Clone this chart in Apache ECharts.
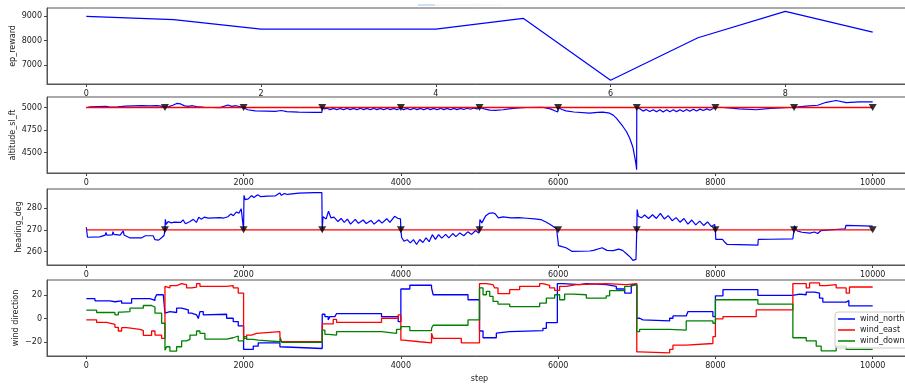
<!DOCTYPE html>
<html><head><meta charset="utf-8">
<script src="https://cdn.jsdelivr.net/npm/echarts@6/dist/echarts.min.js"></script>
<style>html,body{margin:0;padding:0;background:#fff}#c{width:905px;height:385px}</style>
</head><body><div id="c"></div>
<script>
// ---------- data ----------
const episodes = [0,1,2,3,4,5,6,7,8,9];
const epReward = [8980,8850,8460,8460,8460,8900,6395,8113,9177,8343];

const targetSteps = [1000,2000,3000,4000,5000,6000,7000,8000,9000,10000];
const altitudeTarget = 5000;
const headingTarget = 270;

const altitude = [
[0,4997],[50,5008],[150,5010],[250,5012],[300,5005],[400,5008],[500,5015],[600,5018],[700,5020],[800,5018],[900,5022],[950,5015],[1000,5005],
[1050,5010],[1100,5025],[1150,5045],[1200,5040],[1250,5018],[1300,5012],[1350,5020],[1400,5010],[1500,5002],[1600,5000],[1700,4998],[1800,5028],[1850,5012],[1900,5020],[1950,5010],[2000,5000],
[2050,4975],[2150,4962],[2300,4960],[2400,4958],[2480,4967],[2550,4955],[2700,4948],[2900,4945],[2995,4945],
[3000,5000],[3030,4985],[3060,4992],[3100,4976],[3145,4990],[3185,4975],[3230,4990],[3270,4975],[3315,4991],[3355,4976],[3400,4990],[3440,4975],[3485,4991],[3525,4976],[3570,4990],[3610,4975],[3655,4991],[3695,4976],[3740,4990],[3780,4975],[3825,4991],[3865,4976],[3910,4990],[3950,4975],[3995,4992],
[4035,4976],[4080,4990],[4120,4975],[4165,4991],[4205,4976],[4250,4990],[4290,4975],[4335,4991],[4375,4976],[4420,4990],[4460,4975],[4505,4991],[4545,4976],[4590,4990],[4630,4975],[4675,4991],[4715,4977],[4760,4990],[4800,4978],[4845,4992],[4885,4980],[4930,4994],[4970,4985],[5000,5000],
[5060,4985],[5130,4970],[5200,4968],[5300,4975],[5400,4988],[5500,4995],[5600,5000],[5800,5003],[5900,4985],[5950,4967],[5995,4950],[6000,5000],
[6050,4978],[6100,4962],[6200,4950],[6400,4938],[6500,4945],[6570,4948],[6655,4937],[6700,4915],[6740,4882],[6824,4789],[6870,4730],[6909,4660],[6950,4560],[6973,4456],[6990,4370],[6998,4308],
[7000,5000],[7040,4985],[7080,4960],[7120,4978],[7165,4955],[7210,4976],[7250,4952],[7295,4976],[7335,4950],[7380,4975],[7420,4952],[7465,4975],[7505,4954],[7550,4976],[7590,4956],[7635,4978],[7675,4958],[7720,4980],[7760,4962],[7805,4982],[7845,4966],[7890,4985],[7930,4970],[7970,4988],[8000,5002],
[8100,5000],[8300,4985],[8520,4975],[8700,4990],[9000,5003],[9150,5015],[9300,5025],[9410,5058],[9536,5078],[9663,5055],[9830,5063],[10000,5063]
];

const heading = [
[0,271.2],[15,266.6],[170,266.8],[175,267.5],[240,267.6],[250,268.8],[260,267.6],[330,267.7],[340,269.2],[350,267.9],[430,267.6],[470,269.5],[480,267.6],[555,266.3],[700,266.3],[750,267.3],[850,267.3],[873,265.5],[920,265.3],[960,266.5],[990,267.5],
[1000,270.5],[1005,274.8],[1015,272.5],[1040,273.8],[1080,273.2],[1120,273.5],[1200,273.4],[1230,274.6],[1260,272.8],[1320,273.8],[1360,274.8],[1400,273.4],[1430,275.8],[1460,274.9],[1500,275.8],[1550,275.4],[1700,275.6],[1750,275.4],[1770,274.6],[1800,276],[1840,277.3],[1870,276.5],[1910,278.2],[1940,277.6],[1970,279.6],[1995,279],[2000,270],
[2005,285.8],[2020,283.8],[2060,284.2],[2100,285.7],[2130,284.8],[2180,286.1],[2220,285.2],[2300,285.4],[2400,285.5],[2460,286.9],[2480,285.8],[2520,286.6],[2560,286.2],[2700,286.8],[2900,287],[2995,287.1],[3000,270],
[3010,276],[3050,275],[3080,278.5],[3110,275.5],[3150,275.8],[3200,273.8],[3240,275.2],[3280,273.4],[3320,274.9],[3360,272.6],[3420,274.8],[3460,273],[3520,274.5],[3560,272.9],[3620,274.3],[3660,272.6],[3720,274.5],[3760,273.1],[3820,275.1],[3860,273.4],[3920,276.2],[3960,275.3],[3995,275],[4000,270],
[4010,266.5],[4040,264.8],[4080,265.5],[4120,264],[4160,265.5],[4200,263.3],[4240,265.6],[4280,264.2],[4320,266.3],[4360,264.6],[4400,267.8],[4440,265.6],[4480,267.8],[4520,266.2],[4570,267.9],[4610,266.3],[4660,268.3],[4700,266.9],[4750,268.6],[4800,267.3],[4850,269.1],[4900,267.9],[4950,269.7],[4990,268.5],[5000,270],
[5005,274.7],[5030,273.2],[5080,276.5],[5120,277.5],[5170,277.8],[5200,277.3],[5240,275.5],[5300,275.9],[5400,275.5],[5500,275.6],[5600,275.3],[5700,275],[5780,274.7],[5850,273.5],[5900,272.4],[5980,270.5],[6000,270],
[6005,262.8],[6050,262.3],[6100,261.8],[6180,260.1],[6300,260.2],[6400,260.3],[6450,260.6],[6560,261.8],[6620,260.6],[6700,260.5],[6770,261.2],[6820,260.6],[6880,258.7],[6920,257.4],[6950,256],[6970,255.5],[6990,256.5],[7000,270],
[7005,279.3],[7020,276.2],[7060,275.5],[7100,276.8],[7150,275.2],[7200,276.9],[7250,275.2],[7300,277.5],[7350,275],[7400,276.5],[7450,274.2],[7500,275.6],[7550,273.5],[7600,275.2],[7650,272.6],[7700,274.5],[7750,272.3],[7800,274],[7850,272],[7900,273.6],[7950,271.5],[7990,272.5],[8000,270],
[8005,265.6],[8090,265.6],[8120,264.3],[8150,263.3],[8300,263.2],[8540,263],[8545,265.6],[8700,265.7],[8985,265.9],[9000,270],
[9005,271.8],[9040,269.5],[9100,268.9],[9200,268.5],[9260,269],[9300,268.3],[9340,269.6],[9360,270.5],[9650,270.5],[9660,272],[10000,271.7]
];

const windNorth = [
[0,17.0],[110,15.2],[300,14.4],[364,15.2],[449,13.2],[576,17.0],[809,15.5],[873,17.5],[894,20.4],[979,21.8],
[1000,4.6],[1021,6.0],[1063,4.6],[1085,5.2],[1148,8.9],[1212,7.5],[1297,4.6],[1339,3.2],[1402,3.7],[1424,0],[1445,6],[1487,3.2],[1508,3.7],[1784,0.3],[1868,-2.6],[1932,-6.3],
[2000,-26.4],[2123,-23.6],[2186,-20.7],[2462,-24.1],[2483,-25.6],
[3000,3.7],[3034,1.7],[3076,-1.1],[3097,1.7],[3161,3.2],[3182,4.3],[3754,1.7],[3966,-2.6],
[4000,25.3],[4114,28.5],[4390,26.2],[4411,20.4],[4854,16.1],
[5000,-10.6],[5045,-16.4],[5214,-12.5],[5235,-11.2],[5380,-10.3],[5807,-8.3],[5850,-3.4],
[5990,29.9],[6062,29.0],[6274,29.9],[6358,29.0],[6612,27.6],[6740,25.3],[6846,21.8],[6930,29.0],
[7000,0.3],[7036,-1.1],[7079,-2.0],[7418,0.3],[7460,2.3],[7629,1.2],[7651,6.0],[7968,1.7],
[8000,19.5],[8096,24.7],[8540,19.8],[8985,21.0],[9070,20.4],[9155,22.7],[9260,21.8],[9324,17.5],[9366,14.1],[9663,15.5],[9697,10.9],[10000,10.9]
];

const windEast = [
[0,-1.1],[131,-3.2],[258,-4.9],[364,-7.5],[407,-10.6],[449,-7.8],[513,-9.2],[682,-10.3],[725,-14.4],[830,-10.6],[873,-14.1],[958,-17],
[1000,27.6],[1021,26.2],[1063,28.2],[1148,29.9],[1212,29.0],[1275,26.2],[1339,27.0],[1402,29.9],[1445,27.6],[1784,28.2],[1868,26.2],[1932,21.8],
[2000,-17],[2038,-14.1],[2102,-12.6],[2165,-11.2],[2462,-15.5],[2483,-19.8],
[3000,-4.6],[3140,-0.6],[3182,-3.2],[3754,0.3],[3966,3.2],
[4000,-18.4],[4029,-19.8],[4241,-20.7],[4390,-12.6],[4411,-17],[4769,-20.7],
[5000,29.9],[5087,29.0],[5172,29.9],[5193,26.2],[5235,21.3],[5384,24.7],[5511,27.6],[5765,29.9],[5807,28.5],[5892,26.2],[5956,24.1],[6019,27.6],[6104,29.0],[6231,29.9],[6612,29.0],[6867,29.9],
[7000,-28.5],[7036,-29.3],[7418,-26.4],[7460,-22.7],[7629,-21.3],[7968,-15.5],
[8000,-0.3],[8096,1.7],[8519,7.5],
[8985,29.9],[9155,26.2],[9197,30.5],[9324,28.2],[9409,29.0],[9536,26.2],[9663,21.8],[9705,27.0],[10000,27.0]
];

const windDown = [
[0,7.2],[131,5.2],[364,3.2],[407,5.5],[449,6.0],[555,8.9],[725,11.2],[830,9.8],[873,4.6],[958,-4.0],
[1000,-27.0],[1021,-24.1],[1063,-27.9],[1148,-24.1],[1212,-19.0],[1275,-17.8],[1318,-14.1],[1402,-10.6],[1445,-12.6],[1508,-17.5],[1784,-16.4],[1868,-14.9],[1932,-19.0],
[2000,-15.5],[2038,-17.8],[2123,-18.4],[2186,-19.8],[2462,-16.9],[2483,-20.4],
[3000,-9.8],[3034,-13.5],[3076,-14.1],[3182,-11.2],[3754,-12.6],[3945,-9.2],
[4000,-6.9],[4114,-10.3],[4390,-8.3],[4411,-5.7],[4854,-1.1],
[5000,26.2],[5045,20.4],[5087,23.3],[5130,19.0],[5172,14.7],[5235,12.4],[5384,10.3],[5765,13.2],[5850,17.5],[5956,20.4],[6019,16.1],[6083,21.0],[6189,20.4],[6358,17.5],[6612,19.5],[6655,23.9],[6846,27.6],[6909,29.0],
[7000,-11.2],[7036,-9.2],[7418,-9.8],[7629,-2.0],[7968,-4.0],
[8000,16.1],[8540,12.4],
[8985,-16.4],[9155,-19.0],[9282,-23.6],[9345,-27.6],[9536,-23.6],[9663,-26.4],[10000,-26.4]
];

const tickEpisodes = [0,2,4,6,8];
const tickSteps = [0,2000,4000,6000,8000,10000];
const tickReward = [7000,8000,9000];
const tickAltitude = [4500,4750,5000];
const tickHeading = [260,270,280];
const tickWind = [-20,0,20];

// ---------- chart ----------
const FONT = 'DejaVu Sans';
const TXT = '#1a1a1a';
const FRAME = '#555';
const gridBase = {left:47, width:865, height:76, show:true, borderColor:FRAME, borderWidth:1,
  backgroundColor:'#fff', containLabel:false, outerBoundsMode:'none'};
const grids = [
  Object.assign({top:8}, gridBase),
  Object.assign({top:97}, gridBase),
  Object.assign({top:189}, gridBase),
  Object.assign({top:280}, gridBase)
];
const fmt = v => String(v).replace('-', '\u2212');

function xAx(gi, min, max, ticks, name) {
  return {
    type:'value', gridIndex:gi, min:min, max:max,
    splitLine:{show:false},
    axisLine:{show:true, onZero:false, lineStyle:{color:FRAME, width:1}},
    axisTick:{show:true, inside:false, length:3, lineStyle:{color:'#444'}, customValues:ticks},
    axisLabel:{show:true, margin:6, fontSize:8, fontFamily:FONT, color:TXT, customValues:ticks, formatter:fmt},
    name:name || '', nameLocation:'middle', nameGap:19, nameMoveOverlap:false,
    nameTextStyle:{fontSize:8, fontFamily:FONT, color:TXT}
  };
}
function yAx(gi, min, max, ticks, name, gap) {
  return {
    type:'value', gridIndex:gi, min:min, max:max,
    splitLine:{show:false},
    axisLine:{show:true, onZero:false, lineStyle:{color:FRAME, width:1}},
    axisTick:{show:true, inside:false, length:3, lineStyle:{color:'#444'}, customValues:ticks},
    axisLabel:{show:true, margin:5, fontSize:8, fontFamily:FONT, color:TXT, customValues:ticks, formatter:fmt},
    name:name, nameLocation:'middle', nameRotate:90, nameGap:gap, nameMoveOverlap:false,
    nameTextStyle:{fontSize:8, fontFamily:FONT, color:TXT}
  };
}

const hline = (v) => [[0, v], [10000, v]];
const markers = (v) => targetSteps.map(s => [s, v]);
const lineStyleOf = (c, w) => ({color:c, width:w || 1.2});

const option = {
  animation:false,
  backgroundColor:'#fff',
  grid:grids,
  xAxis:[
    xAx(0, -0.45, 9.45, tickEpisodes),
    xAx(1, -500, 10500, tickSteps),
    xAx(2, -500, 10500, tickSteps),
    xAx(3, -500, 10500, tickSteps, 'step')
  ],
  yAxis:[
    yAx(0, 6246, 9316, tickReward, 'ep_reward', 30),
    yAx(1, 4271, 5117, tickAltitude, 'altitude_sl_ft', 30),
    yAx(2, 253.9, 288.7, tickHeading, 'heading_deg', 24),
    yAx(3, -32, 33, tickWind, 'wind direction', 27)
  ],
  legend:{
    data:['wind_north','wind_east','wind_down'],
    orient:'vertical', left:835, top:312,
    icon:'rect', itemWidth:17, itemHeight:1.5, itemGap:3,
    textStyle:{fontSize:8, fontFamily:FONT, color:TXT},
    backgroundColor:'rgba(255,255,255,0.8)', borderColor:'#ccc', borderWidth:1, borderRadius:3,
    padding:[3,4,3,3]
  },
  graphic:[
    {type:'line', shape:{x1:435, y1:5, x2:503, y2:5}, style:{stroke:'#eeeeee', lineWidth:1}},
    {type:'line', shape:{x1:418, y1:5, x2:435, y2:5}, style:{stroke:'#9cc3e8', lineWidth:1}}
  ],
  series:[
    {type:'line', name:'ep_reward', xAxisIndex:0, yAxisIndex:0, data:episodes.map((e,i)=>[e, epReward[i]]),
      showSymbol:false, lineStyle:lineStyleOf('#0000ff'), z:2},
    {type:'line', name:'altitude', xAxisIndex:1, yAxisIndex:1, data:altitude,
      showSymbol:false, lineStyle:lineStyleOf('#0000ff'), z:2},
    {type:'line', name:'alt_target', xAxisIndex:1, yAxisIndex:1, data:hline(altitudeTarget),
      showSymbol:false, lineStyle:lineStyleOf('#ff0000', 1.4), itemStyle:{color:'#ff0000'}, z:5},
    {type:'scatter', name:'alt_marks', xAxisIndex:1, yAxisIndex:1, data:markers(altitudeTarget),
      symbol:'triangle', symbolRotate:180, symbolSize:[8,7], itemStyle:{color:'#000'}, z:6},
    {type:'line', name:'heading', xAxisIndex:2, yAxisIndex:2, data:heading,
      showSymbol:false, lineStyle:lineStyleOf('#0000ff'), z:2},
    {type:'line', name:'head_target', xAxisIndex:2, yAxisIndex:2, data:hline(headingTarget),
      showSymbol:false, lineStyle:lineStyleOf('#ff0000', 1.4), itemStyle:{color:'#ff0000'}, z:5},
    {type:'scatter', name:'head_marks', xAxisIndex:2, yAxisIndex:2, data:markers(headingTarget),
      symbol:'triangle', symbolRotate:180, symbolSize:[8,7], itemStyle:{color:'#000'}, z:6},
    {type:'line', name:'wind_north', xAxisIndex:3, yAxisIndex:3, data:windNorth, step:'end',
      showSymbol:false, lineStyle:lineStyleOf('#0000ff', 1.3), itemStyle:{color:'#0000ff'}, z:2},
    {type:'line', name:'wind_east', xAxisIndex:3, yAxisIndex:3, data:windEast, step:'end',
      showSymbol:false, lineStyle:lineStyleOf('#ff0000', 1.3), itemStyle:{color:'#ff0000'}, z:2},
    {type:'line', name:'wind_down', xAxisIndex:3, yAxisIndex:3, data:windDown, step:'end',
      showSymbol:false, lineStyle:lineStyleOf('#008000', 1.3), itemStyle:{color:'#008000'}, z:2}
  ]
};
const chart = echarts.init(document.getElementById('c'), null, {renderer:'canvas'});
chart.setOption(option);
</script>
</body></html>
